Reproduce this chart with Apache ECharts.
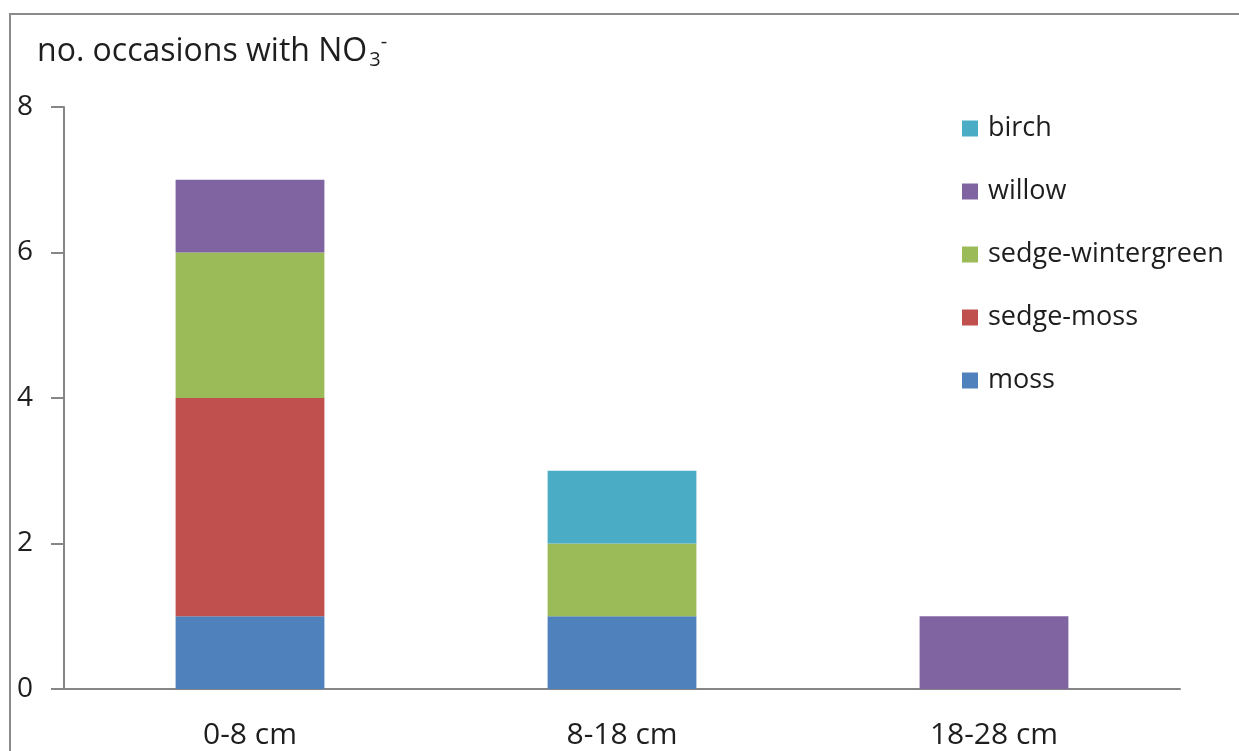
<!DOCTYPE html>
<html>
<head>
<meta charset="utf-8">
<script src="https://cdn.jsdelivr.net/npm/echarts@6/dist/echarts.min.js"></script>
<style>
  html, body { margin: 0; padding: 0; background: #fff; }
  #chart { width: 1239px; height: 751px; }
</style>
</head>
<body>
<div id="chart"></div>
<script>
// Soil depth classes
const depths = ['0-8 cm', '8-18 cm', '18-28 cm'];

// Number of occasions with nitrate present, per vegetation type
const moss = [1, 1, 0];
const sedgeMoss = [3, 0, 0];
const sedgeWintergreen = [2, 1, 0];
const willow = [1, 0, 1];
const birch = [0, 1, 0];

const yTicks = { min: 0, max: 8, interval: 2 };

const FONT = '"Open Sans", "Noto Sans", sans-serif';
const AXIS_GREY = '#868686';
const TEXT = '#1e1e1e';

const stackOrder = [
  { name: 'moss', data: moss, color: '#4F81BD' },
  { name: 'sedge-moss', data: sedgeMoss, color: '#C0504D' },
  { name: 'sedge-wintergreen', data: sedgeWintergreen, color: '#9BBB59' },
  { name: 'willow', data: willow, color: '#8064A2' },
  { name: 'birch', data: birch, color: '#4BACC6' }
];

const chart = echarts.init(document.getElementById('chart'), null, { renderer: 'canvas' });

chart.setOption({
  animation: false,
  backgroundColor: '#fff',
  textStyle: { fontFamily: FONT },
  graphic: [
    // frame lines along the top and left edges
    { type: 'polyline', shape: { points: [[10, 751], [10, 14], [1239, 14]] },
      style: { stroke: '#8a8a8a', lineWidth: 2, fill: null } }
  ],
  title: {
    left: 37, top: 30, padding: 0,
    text: '{a|no. occasions with NO}{sub|3}{sup|-}',
    textStyle: {
      fontWeight: 'normal',
      rich: {
        a: { fontFamily: FONT, fontSize: 32, color: TEXT, lineHeight: 44, verticalAlign: 'middle' },
        sub: { fontFamily: FONT, fontSize: 20, color: TEXT, lineHeight: 44, verticalAlign: 'bottom', padding: [0, 0, 4, 2] },
        sup: { fontFamily: FONT, fontSize: 20, color: TEXT, lineHeight: 44, verticalAlign: 'top', padding: [2, 0, 0, 0] }
      }
    }
  },
  legend: {
    orient: 'vertical',
    left: 962, top: 115, padding: 0,
    itemWidth: 16, itemHeight: 16, itemGap: 36,
    icon: 'rect',
    data: ['birch', 'willow', 'sedge-wintergreen', 'sedge-moss', 'moss'],
    textStyle: { fontFamily: FONT, fontSize: 27, lineHeight: 27, color: TEXT, padding: [0, 0, 0, 5] }
  },
  grid: { left: 64, right: 59, top: 107, bottom: 62, containLabel: false },
  xAxis: {
    type: 'category',
    data: depths,
    axisLine: { lineStyle: { color: AXIS_GREY, width: 2 } },
    axisTick: { length: 12, lineStyle: { color: AXIS_GREY, width: 2 } },
    axisLabel: { fontFamily: FONT, fontSize: 30, color: TEXT, margin: 31 }
  },
  yAxis: {
    type: 'value',
    min: yTicks.min, max: yTicks.max, interval: yTicks.interval,
    splitLine: { show: false },
    axisLine: { show: true, lineStyle: { color: AXIS_GREY, width: 2 } },
    axisTick: { show: true, length: 13, lineStyle: { color: AXIS_GREY, width: 2 } },
    axisLabel: { fontFamily: FONT, fontSize: 28, color: TEXT, margin: 31 }
  },
  series: stackOrder.map(s => ({
    name: s.name,
    type: 'bar',
    stack: 'total',
    barWidth: '40%',
    data: s.data,
    itemStyle: { color: s.color }
  }))
});
</script>
</body>
</html>
